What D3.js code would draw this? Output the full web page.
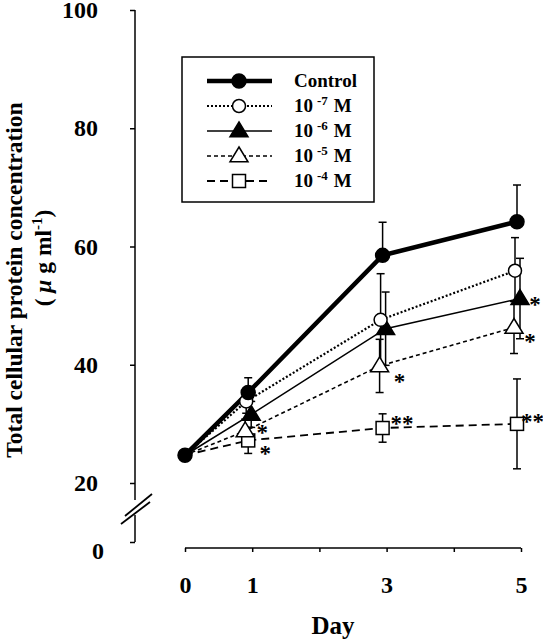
<!DOCTYPE html>
<html><head><meta charset="utf-8">
<script src="https://cdn.jsdelivr.net/npm/d3@7"></script>
<style>body{margin:0;background:#fff;} svg{display:block;}</style>
</head><body>
<svg id="chart" width="543" height="640"></svg>
<script>
// ---- data ----
const days = [0, 1, 3, 5];
const dayTicks = [0, 1, 2, 3, 4, 5];
const dayLabels = [0, 1, 3, 5];
const yTicks = [20, 40, 60, 80, 100];
const yLowTicks = [0];
const seriesNames = ["Control", "10", "10", "10", "10"];
const seriesExp = ["", "-7", "-6", "-5", "-4"];
const control = [24.7, 35.3, 58.5, 64.2];
const controlSD = [0, 2.5, 5.6, 6.2];
const m7 = [24.7, 33.8, 47.6, 55.9];
const m7SD = [0, 2.0, 7.8, 5.6];
const m6 = [24.7, 31.6, 46.1, 51.2];
const m6SD = [0, 2.2, 6.2, 6.8];
const m5 = [24.7, 28.8, 39.8, 46.3];
const m5SD = [0, 2.0, 4.5, 4.4];
const m4 = [24.7, 27.2, 29.3, 30.0];
const m4SD = [0, 2.2, 2.4, 7.6];
const controlSig = ["", "", "", ""];
const m7Sig = ["", "", "", ""];
const m6Sig = ["", "", "", "*"];
const m5Sig = ["", "*", "*", "*"];
const m4Sig = ["", "*", "**", "**"];

// ---- styles ----
const styles = [
  {marker: "circle", fill: "#000", width: 4.5, dash: null, size: 7, dx: -4, errUpOnly: true},
  {marker: "circle", fill: "#fff", width: 2.2, dash: "2,2", size: 6.5, dx: -6, errUpOnly: false},
  {marker: "triangle", fill: "#000", width: 1.6, dash: null, size: 9, dx: -1, errUpOnly: false},
  {marker: "triangle", fill: "#fff", width: 1.6, dash: "4,3", size: 9, dx: -7, errUpOnly: false},
  {marker: "square", fill: "#fff", width: 1.8, dash: "8,5", size: 6.5, dx: -4, errUpOnly: false}
];
const sigOffsets = [
  null, null,
  [null, null, null, [15, 0]],
  [null, [17, -4], [20, 10], [16, 8]],
  [null, [17, 8], [16, -10], [12, -8]]
];

const series = [
  {v: control, sd: controlSD, sig: controlSig},
  {v: m7, sd: m7SD, sig: m7Sig},
  {v: m6, sd: m6SD, sig: m6Sig},
  {v: m5, sd: m5SD, sig: m5Sig},
  {v: m4, sd: m4SD, sig: m4Sig}
];

const font = "'Liberation Serif','Times New Roman',serif";
const svg = d3.select("#chart");

const x = d3.scaleLinear().domain([0, 5]).range([185, 521]);
const y = d3.scaleLinear().domain([20, 100]).range([483, 10]);
const yLow = d3.scaleLinear().domain([0, 20]).range([542, 483]);
const axX = 135;

// y axis upper
const yAxisG = svg.append("g").attr("transform", `translate(${axX},0)`)
  .call(d3.axisLeft(y).tickValues(yTicks).tickSize(5).tickPadding(32));
yAxisG.select(".domain").remove();
yAxisG.selectAll("line").attr("stroke", "#000").attr("stroke-width", 1.5);
yAxisG.selectAll("text").attr("font-family", font).attr("font-weight", "bold")
  .attr("font-size", 24).attr("fill", "#000");
svg.append("line").attr("x1", axX).attr("x2", axX).attr("y1", y(100)).attr("y2", 500)
  .attr("stroke", "#000").attr("stroke-width", 1.5);

// y axis lower
const yLowG = svg.append("g").attr("transform", `translate(${axX},0)`)
  .call(d3.axisLeft(yLow).tickValues(yLowTicks).tickSize(5).tickPadding(26));
yLowG.select(".domain").remove();
yLowG.selectAll("line").attr("stroke", "#000").attr("stroke-width", 1.5);
yLowG.selectAll("text").attr("font-family", font).attr("font-weight", "bold")
  .attr("font-size", 24).attr("fill", "#000").attr("dy", "0.7em");
svg.append("line").attr("x1", axX).attr("x2", axX).attr("y1", 515).attr("y2", yLow(0))
  .attr("stroke", "#000").attr("stroke-width", 1.5);

// break marks
[[125, 516, 152, 494], [121, 524, 150, 502]].forEach(s => {
  svg.append("line").attr("x1", s[0]).attr("y1", s[1]).attr("x2", s[2]).attr("y2", s[3])
    .attr("stroke", "#000").attr("stroke-width", 1.8);
});

// x axis
const xAxisG = svg.append("g").attr("transform", "translate(0,548)")
  .call(d3.axisBottom(x).tickValues(dayTicks)
    .tickFormat(d => dayLabels.includes(d) ? d : "").tickSize(4).tickPadding(24));
xAxisG.select(".domain").attr("d", `M${x(0)},0H${x(5)}`).attr("stroke", "#000").attr("stroke-width", 1.5);
xAxisG.selectAll("line").attr("stroke", "#000").attr("stroke-width", 1.5);
xAxisG.selectAll("text").attr("font-family", font).attr("font-weight", "bold")
  .attr("font-size", 24).attr("fill", "#000");

// axis titles
svg.append("text").attr("x", 333).attr("y", 634).attr("text-anchor", "middle")
  .attr("font-family", font).attr("font-weight", "bold").attr("font-size", 25).text("Day");
svg.append("text").attr("transform", "translate(22,280) rotate(-90)").attr("text-anchor", "middle")
  .attr("font-family", font).attr("font-weight", "bold").attr("font-size", 23.5)
  .text("Total cellular protein concentration");
const t2 = svg.append("text").attr("transform", "translate(51,258) rotate(-90)").attr("text-anchor", "middle")
  .attr("font-family", font).attr("font-weight", "bold").attr("font-size", 23.5);
t2.append("tspan").text("( ");
t2.append("tspan").attr("font-style", "italic").text("μ");
t2.append("tspan").text(" g ml");
t2.append("tspan").attr("font-size", 15).attr("dy", -9).text("-1");
t2.append("tspan").attr("dy", 9).text(")");

const px = (d, i, s) => x(d) + (d === 0 ? 0 : s.dx);

function marker(g, type, cx, cy, st, strokeW) {
  if (type === "circle") {
    g.append("circle").attr("cx", cx).attr("cy", cy).attr("r", st.size)
      .attr("fill", st.fill).attr("stroke", "#000").attr("stroke-width", strokeW);
  } else if (type === "triangle") {
    const s = st.size;
    g.append("path").attr("d", `M${cx},${cy - s}L${cx + s * 1.0},${cy + s * 0.65}L${cx - s * 1.0},${cy + s * 0.65}Z`)
      .attr("fill", st.fill).attr("stroke", "#000").attr("stroke-width", strokeW).attr("stroke-linejoin", "miter");
  } else {
    const s = st.size;
    g.append("rect").attr("x", cx - s).attr("y", cy - s).attr("width", 2 * s).attr("height", 2 * s)
      .attr("fill", st.fill).attr("stroke", "#000").attr("stroke-width", strokeW);
  }
}

// error bars
const errG = svg.append("g");
series.forEach((s, si) => {
  const st = styles[si];
  days.forEach((d, i) => {
    if (!s.sd[i]) return;
    const cx = px(d, i, st);
    const top = y(s.v[i] + s.sd[i]);
    const bot = st.errUpOnly ? y(s.v[i]) : y(s.v[i] - s.sd[i]);
    errG.append("line").attr("x1", cx).attr("x2", cx).attr("y1", top).attr("y2", bot)
      .attr("stroke", "#000").attr("stroke-width", 1.5);
    errG.append("line").attr("x1", cx - 4).attr("x2", cx + 4).attr("y1", top).attr("y2", top)
      .attr("stroke", "#000").attr("stroke-width", 1.5);
    if (!st.errUpOnly) {
      errG.append("line").attr("x1", cx - 4).attr("x2", cx + 4).attr("y1", bot).attr("y2", bot)
        .attr("stroke", "#000").attr("stroke-width", 1.5);
    }
  });
});

// lines
const lineG = svg.append("g");
series.forEach((s, si) => {
  const st = styles[si];
  const line = d3.line().x((d, i) => px(days[i], i, st)).y(d => y(d));
  lineG.append("path").datum(s.v).attr("d", line).attr("fill", "none")
    .attr("stroke", "#000").attr("stroke-width", st.width)
    .attr("stroke-dasharray", st.dash);
});

// markers
const mkG = svg.append("g");
[4, 3, 2, 1, 0].forEach(si => {
  const s = series[si], st = styles[si];
  days.forEach((d, i) => {
    const cx = px(d, i, st), cy = y(s.v[i]);
    if (d === 0 && si !== 0) return;
    marker(mkG, st.marker, cx, cy, st, 1.5);
  });
});

// significance marks
series.forEach((s, si) => {
  const st = styles[si];
  s.sig.forEach((txt, i) => {
    if (!txt) return;
    const off = sigOffsets[si][i];
    const cx = px(days[i], i, st) + off[0];
    const cy = y(s.v[i]) + off[1];
    svg.append("text").attr("x", txt.length > 1 ? cx - 8 : cx).attr("y", cy + 13)
      .attr("text-anchor", txt.length > 1 ? "start" : "middle")
      .attr("font-family", font).attr("font-weight", "bold").attr("font-size", 23).text(txt);
  });
});

// legend
const lg = svg.append("g");
lg.append("rect").attr("x", 182).attr("y", 57).attr("width", 192).attr("height", 145)
  .attr("fill", "#fff").attr("stroke", "#000").attr("stroke-width", 1.5);
const rowY = [81, 106, 131, 156, 181];
series.forEach((s, si) => {
  const st = styles[si];
  const yy = rowY[si];
  lg.append("line").attr("x1", 207).attr("x2", 272).attr("y1", yy).attr("y2", yy)
    .attr("stroke", "#000").attr("stroke-width", st.width).attr("stroke-dasharray", st.dash);
  marker(lg, st.marker, 239, yy, st, 1.5);
  const t = lg.append("text").attr("x", 294).attr("y", yy + 6)
    .attr("font-family", font).attr("font-weight", "bold").attr("font-size", 19);
  t.append("tspan").text(seriesNames[si]);
  if (seriesExp[si]) {
    t.append("tspan").attr("font-size", 13).attr("dx", 4).attr("dy", -7).text(seriesExp[si]);
    t.append("tspan").attr("dx", 6).attr("dy", 7).text("M");
  }
});
</script>
</body></html>
